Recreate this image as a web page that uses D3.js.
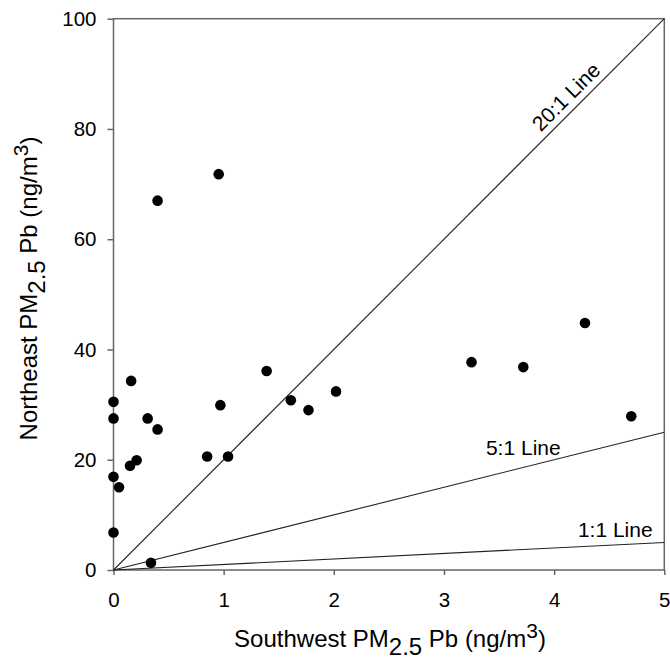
<!DOCTYPE html>
<html>
<head>
<meta charset="utf-8">
<script src="https://cdn.jsdelivr.net/npm/d3@7"></script>
<style>
  body { margin: 0; background: #fff; }
  svg text { font-family: "Liberation Sans", Arial, sans-serif; fill: #000; }
</style>
</head>
<body>
<svg id="chart" width="670" height="662"></svg>
<script>
// southwest vs northeast PM2.5 Pb, ng/m3
var southwest = [0, 0, 0.16, 0.31, 0.40, 0.15, 0.21, 0, 0.05, 0, 0.34, 0.85, 1.04, 0.97,
                 1.39, 1.61, 1.77, 2.02, 3.25, 3.72, 4.28, 4.70, 0.40, 0.955]
var northeast = [30.5, 27.5, 34.3, 27.5, 25.5, 18.9, 19.9, 16.9, 15.0, 6.8, 1.3, 20.6, 20.6, 29.9,
                 36.1, 30.8, 29.0, 32.4, 37.7, 36.8, 44.8, 27.9, 67.0, 71.8]
var ratios = [20, 5, 1]
var ratioLabels = ["20:1 Line", "5:1 Line", "1:1 Line"]
var xTicks = [0, 1, 2, 3, 4, 5]
var yTicks = [0, 20, 40, 60, 80, 100]

var svg = d3.select("#chart")
var x = d3.scaleLinear().domain([0, 5]).range([113.5, 664.3])
var y = d3.scaleLinear().domain([0, 100]).range([570, 18.7])
var axisColor = "#666"

// frame
svg.append("rect")
    .attr("x", x(0)).attr("y", y(100))
    .attr("width", x(5) - x(0)).attr("height", y(0) - y(100))
    .attr("fill", "none").attr("stroke", axisColor).attr("stroke-width", 1.5)

var xAxis = svg.append("g")
    .attr("transform", "translate(0," + y(0) + ")")
    .call(d3.axisBottom(x).tickValues(xTicks).tickSize(5).tickPadding(17).tickFormat(d3.format("d")))
var yAxis = svg.append("g")
    .attr("transform", "translate(" + x(0) + ",0)")
    .call(d3.axisLeft(y).tickValues(yTicks).tickSize(6).tickPadding(11).tickFormat(d3.format("d")))
;[xAxis, yAxis].forEach(function(g) {
    g.select(".domain").remove()
    g.selectAll("line").attr("stroke", axisColor).attr("stroke-width", 1.5)
    g.selectAll("text").attr("font-size", 20.5).attr("font-family", "Liberation Sans, Arial, sans-serif").attr("fill", "#000")
})

// ratio lines
svg.append("g").selectAll("line")
    .data(ratios)
    .join("line")
    .attr("x1", x(0)).attr("y1", y(0))
    .attr("x2", x(5)).attr("y2", function(r) { return y(5 * r) })
    .attr("stroke", "#222").attr("stroke-width", 1.1)

// line labels
svg.append("text")
    .attr("transform", "translate(" + x(4.2) + "," + y(84) + ") rotate(-45)")
    .attr("text-anchor", "middle").attr("dy", -7)
    .attr("font-size", 21).text(ratioLabels[0])
svg.append("text")
    .attr("x", x(3.72)).attr("y", y(20.85))
    .attr("text-anchor", "middle").attr("font-size", 21).text(ratioLabels[1])
svg.append("text")
    .attr("x", x(4.555)).attr("y", y(6.0))
    .attr("text-anchor", "middle").attr("font-size", 21).text(ratioLabels[2])

// points
svg.append("g").selectAll("circle")
    .data(southwest)
    .join("circle")
    .attr("cx", function(d) { return x(d) })
    .attr("cy", function(d, i) { return y(northeast[i]) })
    .attr("r", 5.3)
    .attr("fill", "#000")

// axis titles
var xt = svg.append("text")
    .attr("x", 390).attr("y", 646.5)
    .attr("text-anchor", "middle").attr("font-size", 24)
xt.append("tspan").text("Southwest PM")
xt.append("tspan").attr("dy", 8).text("2.5")
xt.append("tspan").attr("dy", -8).text(" Pb (ng/m")
xt.append("tspan").attr("dy", -9).attr("font-size", 21).text("3")
xt.append("tspan").attr("dy", 9).text(")")

var yt = svg.append("text")
    .attr("transform", "translate(37.3,288.5) rotate(-90)")
    .attr("text-anchor", "middle").attr("font-size", 24)
yt.append("tspan").text("Northeast PM")
yt.append("tspan").attr("dy", 8).text("2.5")
yt.append("tspan").attr("dy", -8).text(" Pb (ng/m")
yt.append("tspan").attr("dy", -9).attr("font-size", 21).text("3")
yt.append("tspan").attr("dy", 9).text(")")
</script>
</body>
</html>
